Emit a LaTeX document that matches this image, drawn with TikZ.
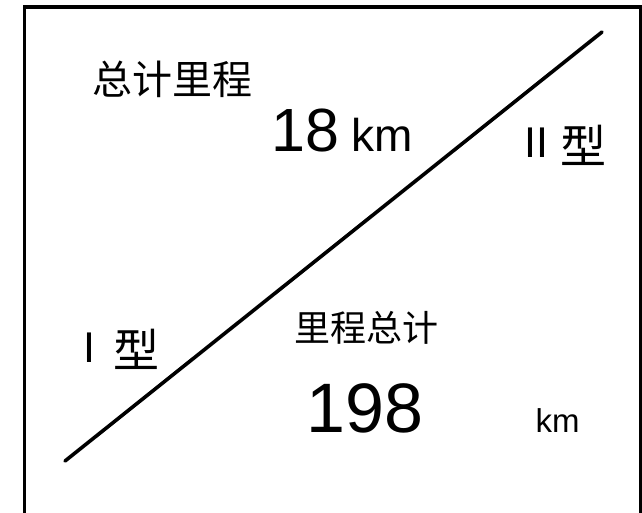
\documentclass[tikz,border=0pt]{standalone}
\usepackage{fontspec}
\setmainfont{Liberation Sans}
\newfontfamily\cjk{Noto Sans CJK SC}
\newcommand{\fsz}[1]{\fontsize{#1}{#1}\selectfont}
\tikzset{
  cjklabel/.style={inner sep=0pt, font={\cjk\fsz{#1}}},
  numlabel/.style={inner sep=0pt, font={\fsz{#1}}},
}
\begin{document}
\begin{tikzpicture}[x=1pt, y=-1pt]
    \useasboundingbox (0,0) rectangle (642,512);

    % Frame
    \draw[line width=3.5pt] (24.5,530) -- (24.5,7) -- (641,7) -- (641,530);

    % Dividing line
    \coordinate (lowEnd) at (65,461);
    \coordinate (highEnd) at (602,32);
    \draw[line width=3.6pt, line cap=round] (lowEnd) -- (highEnd);

    % Upper left part
    \node[cjklabel=40] (totalTop) at (172,79.5) {总计里程};
    \node[numlabel=61, anchor=base west] (kmTop) at (271,151) {18{\fsz{46} km}};

    % Type labels
    \node[numlabel=43] (typeTwoNum) at (536.5,142.5) {II};
    \node[cjklabel=46] (typeTwoChar) at (583.5,145) {型};
    \node[numlabel=43] (typeOneNum) at (89,347.5) {I};
    \node[cjklabel=46] (typeOneChar) at (136,349) {型};

    % Lower right part
    \node[cjklabel=36] (totalLow) at (366,327.5) {里程总计};
    \node[numlabel=70] (kmLow) at (365,408) {198};
    \node[numlabel=33] (kmUnit) at (557.5,421) {km};
\end{tikzpicture}
\end{document}
